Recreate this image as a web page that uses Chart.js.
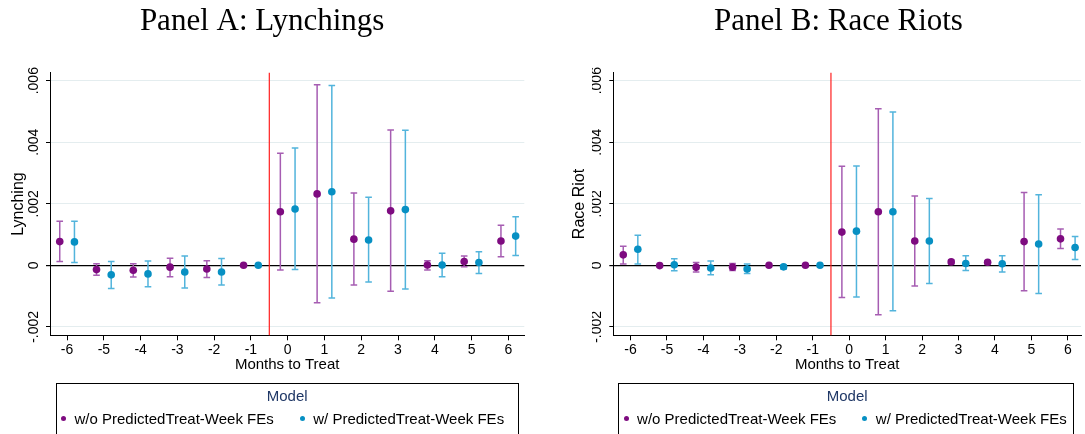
<!DOCTYPE html>
<html>
<head>
<meta charset="utf-8">
<script src="https://cdn.jsdelivr.net/npm/chart.js@4.4.1/dist/chart.umd.min.js"></script>
<style>
  html, body { margin: 0; padding: 0; background: #fff; overflow: hidden; }
  #wrap { position: relative; width: 1085px; height: 434px; overflow: hidden; }
  canvas { position: absolute; top: 0; }
  .legend { position: absolute; top: 383px; height: 70px; border: 1px solid #000; box-sizing: border-box; }
  .legend-title { position: absolute; top: 387px; font: 15px "Liberation Sans", Arial, sans-serif; line-height: 18px; color: #1f3766; transform: translateX(-50%); white-space: nowrap; }
  .legend-row { position: absolute; top: 409px; height: 18px; display: flex; align-items: center; font: 15px "Liberation Sans", Arial, sans-serif; color: #000; white-space: nowrap; }
  .legend-row .dot { width: 5px; height: 5px; border-radius: 50%; margin-right: 8.5px; }
  .legend-row .gap { width: 26px; }
</style>
</head>
<body>
<div id="wrap">
  <canvas id="chartA" width="542" height="384" style="left:0"></canvas>
  <canvas id="chartB" width="543" height="384" style="left:542px"></canvas>
</div>
<script>
// Axes
const months = [-6, -5, -4, -3, -2, -1, 0, 1, 2, 3, 4, 5, 6];
const yTicks = [-0.002, 0, 0.002, 0.004, 0.006];
const yTickLabels = ['-.002', '0', '.002', '.004', '.006'];
const seriesLabels = ['w/o PredictedTreat-Week FEs', 'w/ PredictedTreat-Week FEs'];

// Panel A : Lynchings
const lynchNoFE   = [0.00077, -0.00014, -0.00016, -0.00006, -0.00012, 0, 0.00174, 0.00232, 0.00085, 0.00177, 0.00001, 0.00012, 0.00079];
const lynchNoFELo = [0.00012, -0.00032, -0.00038, -0.00037, -0.00040, null, -0.00015, -0.00122, -0.00064, -0.00084, -0.00015, -0.00005, 0.00028];
const lynchNoFEHi = [0.00143, 0.00005, 0.00005, 0.00023, 0.00015, null, 0.00364, 0.00587, 0.00235, 0.00440, 0.00015, 0.00030, 0.00130];
const lynchFE     = [0.00076, -0.00031, -0.00028, -0.00022, -0.00022, 0, 0.00183, 0.00239, 0.00082, 0.00181, 0.00001, 0.00009, 0.00095];
const lynchFELo   = [0.00009, -0.00075, -0.00070, -0.00074, -0.00064, null, -0.00014, -0.00106, -0.00054, -0.00077, -0.00037, -0.00027, 0.00032];
const lynchFEHi   = [0.00143, 0.00012, 0.00014, 0.00030, 0.00022, null, 0.00381, 0.00584, 0.00221, 0.00439, 0.00039, 0.00044, 0.00158];

// Panel B : Race riots
const riotNoFE   = [0.00034, -0.00001, -0.00006, -0.00006, 0, 0, 0.00108, 0.00174, 0.00079, 0.00011, 0.00010, 0.00077, 0.00086];
const riotNoFELo = [0.00004, null, -0.00022, -0.00017, null, null, -0.00105, -0.00161, -0.00067, 0.00004, 0.00004, -0.00083, 0.00055];
const riotNoFEHi = [0.00062, null, 0.00009, 0.00006, null, null, 0.00322, 0.00509, 0.00225, 0.00017, 0.00015, 0.00237, 0.00118];
const riotFE     = [0.00052, 0.00002, -0.00009, -0.00012, -0.00005, 0, 0.00111, 0.00174, 0.00079, 0.00006, 0.00005, 0.00069, 0.00058];
const riotFELo   = [0.00004, -0.00018, -0.00031, -0.00027, -0.00013, null, -0.00103, -0.00148, -0.00059, -0.00017, -0.00022, -0.00092, 0.00019];
const riotFEHi   = [0.00098, 0.00021, 0.00014, 0.00004, 0.00001, null, 0.00323, 0.00498, 0.00217, 0.00031, 0.00031, 0.00229, 0.00094];

const colors = {
    noFE: '#7e0b80', noFEBar: '#a65db2',
    fe: '#0790c3', feBar: '#52b4dc',
    treat: '#ff1f1f'
};
const dodge = 0.2;

// barres d'erreur + ligne verticale du traitement
const errorBarPlugin = {
    id: 'errorBars',
    beforeDatasetsDraw(chart, args, opts) {
        const {ctx, chartArea, scales: {x, y}} = chart;
        ctx.save();
        const rx = x.getPixelForValue(opts.treatAt);
        ctx.strokeStyle = colors.treat;
        ctx.lineWidth = 1.2;
        ctx.beginPath();
        ctx.moveTo(rx, chartArea.top);
        ctx.lineTo(rx, chartArea.bottom);
        ctx.stroke();

        chart.data.datasets.forEach(ds => {
            ctx.strokeStyle = ds.barColor;
            ctx.lineWidth = 1.5;
            ds.data.forEach((pt, i) => {
                if (ds.lo[i] == null) return;
                const px = x.getPixelForValue(pt.x);
                const top = y.getPixelForValue(ds.hi[i]);
                const bot = y.getPixelForValue(ds.lo[i]);
                ctx.beginPath();
                ctx.moveTo(px, top); ctx.lineTo(px, bot);
                ctx.moveTo(px - 3.3, top); ctx.lineTo(px + 3.3, top);
                ctx.moveTo(px - 3.3, bot); ctx.lineTo(px + 3.3, bot);
                ctx.stroke();
            });
        });
        ctx.restore();
    }
};

function makeDataset(label, values, lo, hi, shift, color, barColor) {
    return {
        label: label,
        data: months.map((m, i) => ({x: m + shift, y: values[i]})),
        lo: lo,
        hi: hi,
        barColor: barColor,
        backgroundColor: color,
        borderWidth: 0,
        pointRadius: 3.8
    };
}

function makeChart(id, cfg) {
    return new Chart(document.getElementById(id), {
        type: 'scatter',
        data: {
            datasets: [
                makeDataset(seriesLabels[0], cfg.noFE, cfg.noFELo, cfg.noFEHi, -dodge, colors.noFE, colors.noFEBar),
                makeDataset(seriesLabels[1], cfg.fe, cfg.feLo, cfg.feHi, dodge, colors.fe, colors.feBar)
            ]
        },
        plugins: [errorBarPlugin],
        options: {
            responsive: false,
            animation: false,
            events: [],
            layout: {padding: cfg.padding},
            plugins: {
                legend: {display: false},
                tooltip: {enabled: false},
                errorBars: {treatAt: -0.5},
                title: {
                    display: true,
                    text: cfg.title,
                    color: '#000',
                    font: {family: '"Liberation Serif", "Times New Roman", serif', size: 31, weight: 'normal'},
                    padding: {top: 3.6, bottom: 31.9}
                }
            },
            scales: {
                x: {
                    type: 'linear',
                    min: cfg.xMin,
                    max: cfg.xMax,
                    afterBuildTicks: axis => { axis.ticks = months.map(v => ({value: v})); },
                    afterFit: axis => { axis.height = 48.7; },
                    ticks: {font: {size: 14}, color: '#000', padding: 1.5, maxRotation: 0},
                    grid: {drawOnChartArea: false, tickLength: 5, tickColor: '#000'},
                    border: {color: '#000', width: 1},
                    title: {display: true, text: 'Months to Treat', color: '#000', font: {size: 15}, padding: {top: 0, bottom: 10.2}}
                },
                y: {
                    min: -0.002275,
                    max: 0.00626,
                    afterBuildTicks: axis => { axis.ticks = yTicks.map(v => ({value: v})); },
                    afterFit: axis => { axis.width = cfg.yWidth; },
                    ticks: {
                        font: {size: 14},
                        color: '#000',
                        minRotation: 90,
                        maxRotation: 90,
                        crossAlign: 'center',
                        padding: -4,
                        callback: (v, i) => yTickLabels[i]
                    },
                    grid: {
                        color: c => c.tick && c.tick.value === 0 ? '#000' : '#e4edef',
                        lineWidth: c => c.tick && c.tick.value === 0 ? 1.2 : 1,
                        tickLength: 4,
                        tickColor: '#000'
                    },
                    border: {color: '#000', width: 1},
                    title: {display: true, text: cfg.yTitle, color: '#000', font: {size: 16}, padding: {top: cfg.yTitlePad, bottom: 0}}
                }
            }
        }
    });
}

// légende en HTML sous chaque panneau
function buildLegend(chart, box) {
    const wrap = document.getElementById('wrap');
    const frame = document.createElement('div');
    frame.className = 'legend';
    frame.style.left = box.left + 'px';
    frame.style.width = box.width + 'px';
    wrap.appendChild(frame);

    const title = document.createElement('div');
    title.className = 'legend-title';
    title.textContent = 'Model';
    title.style.left = ((chart.chartArea.left + chart.chartArea.right) / 2 + box.offset) + 'px';
    wrap.appendChild(title);

    const row = document.createElement('div');
    row.className = 'legend-row';
    row.style.left = box.itemsLeft + 'px';
    chart.data.datasets.forEach((ds, i) => {
        if (i > 0) {
            const g = document.createElement('span');
            g.className = 'gap';
            row.appendChild(g);
        }
        const dot = document.createElement('span');
        dot.className = 'dot';
        dot.style.background = ds.backgroundColor;
        row.appendChild(dot);
        const t = document.createElement('span');
        t.textContent = ds.label;
        row.appendChild(t);
    });
    wrap.appendChild(row);
}

const chartA = makeChart('chartA', {
    title: 'Panel A: Lynchings',
    yTitle: 'Lynching',
    noFE: lynchNoFE, noFELo: lynchNoFELo, noFEHi: lynchNoFEHi,
    fe: lynchFE, feLo: lynchFELo, feHi: lynchFEHi,
    xMin: -6.465, xMax: 6.435,
    yWidth: 50, yTitlePad: 8.9,
    padding: {left: 0, right: 17.7, top: 0, bottom: 0}
});

const chartB = makeChart('chartB', {
    title: 'Panel B: Race Riots',
    yTitle: 'Race Riot',
    noFE: riotNoFE, noFELo: riotNoFELo, noFEHi: riotNoFEHi,
    fe: riotFE, feLo: riotFELo, feHi: riotFEHi,
    xMin: -6.473, xMax: 6.362,
    yWidth: 21.3, yTitlePad: -22.1,
    padding: {left: 50, right: 0, top: 0, bottom: 0}
});

buildLegend(chartA, {left: 55.5, width: 463.5, offset: 0, itemsLeft: 61});
buildLegend(chartB, {left: 618, width: 455.5, offset: 542, itemsLeft: 623.6});
</script>
</body>
</html>
